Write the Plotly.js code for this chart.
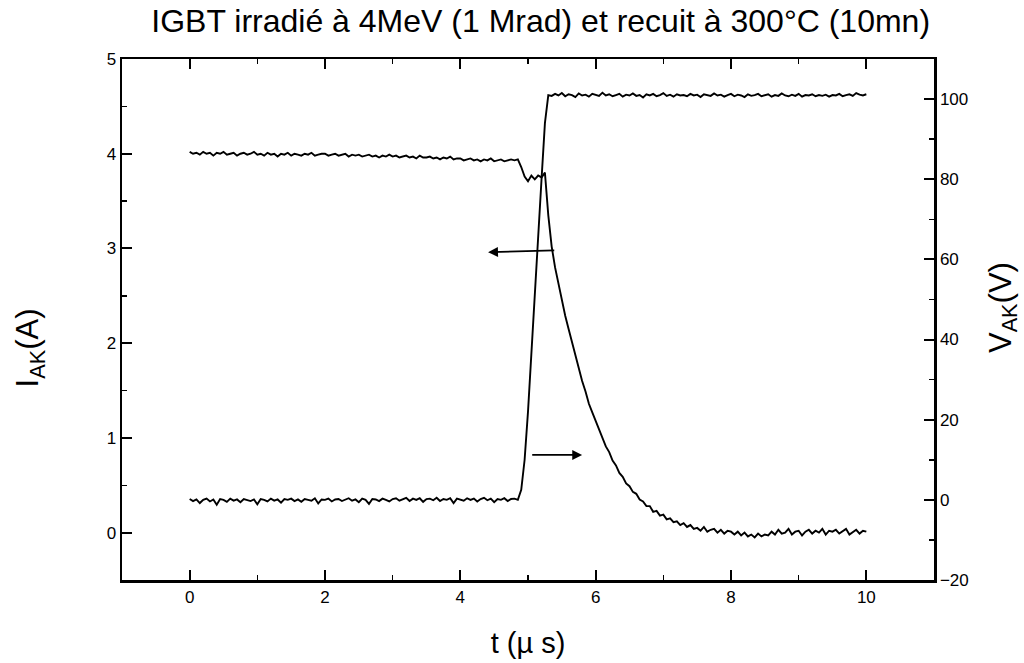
<!DOCTYPE html>
<html><head><meta charset="utf-8">
<script src="https://cdn.plot.ly/plotly-3.0.1.min.js"></script>
<style>body{margin:0;background:#fff}#chart{width:1024px;height:663px}</style>
</head><body><div id="chart"></div>
<script>
var time = [0,0.05,0.1,0.15,0.2,0.25,0.3,0.35,0.4,0.45,0.5,0.55,0.6,0.65,0.7,0.75,0.8,0.85,0.9,0.95,
1,1.05,1.1,1.15,1.2,1.25,1.3,1.35,1.4,1.45,1.5,1.55,1.6,1.65,1.7,1.75,1.8,1.85,1.9,1.95,
2,2.05,2.1,2.15,2.2,2.25,2.3,2.35,2.4,2.45,2.5,2.55,2.6,2.65,2.7,2.75,2.8,2.85,2.9,2.95,
3,3.05,3.1,3.15,3.2,3.25,3.3,3.35,3.4,3.45,3.5,3.55,3.6,3.65,3.7,3.75,3.8,3.85,3.9,3.95,
4,4.05,4.1,4.15,4.2,4.25,4.3,4.35,4.4,4.45,4.5,4.55,4.6,4.65,4.7,4.75,4.8,4.85,4.9,4.95,
5,5.05,5.1,5.15,5.2,5.25,5.3,5.35,5.4,5.45,5.5,5.55,5.6,5.65,5.7,5.75,5.8,5.85,5.9,5.95,
6,6.05,6.1,6.15,6.2,6.25,6.3,6.35,6.4,6.45,6.5,6.55,6.6,6.65,6.7,6.75,6.8,6.85,6.9,6.95,
7,7.05,7.1,7.15,7.2,7.25,7.3,7.35,7.4,7.45,7.5,7.55,7.6,7.65,7.7,7.75,7.8,7.85,7.9,7.95,
8,8.05,8.1,8.15,8.2,8.25,8.3,8.35,8.4,8.45,8.5,8.55,8.6,8.65,8.7,8.75,8.8,8.85,8.9,8.95,
9,9.05,9.1,9.15,9.2,9.25,9.3,9.35,9.4,9.45,9.5,9.55,9.6,9.65,9.7,9.75,9.8,9.85,9.9,9.95,10];

var currentIAK = [4.02,4.00,4.01,3.99,4.02,4.00,4.01,3.98,4.01,4.00,4.02,3.99,4.00,4.01,3.98,4.00,4.01,3.99,4.00,4.02,
3.99,4.00,3.98,4.01,3.99,4.00,3.97,4.00,3.99,4.01,3.98,4.00,3.99,3.98,4.00,3.99,4.01,3.98,3.99,4.00,
4.00,3.98,3.99,4.00,3.98,3.99,4.00,3.97,3.99,3.98,3.99,3.97,3.98,3.99,3.97,3.98,3.96,3.98,3.97,3.99,
3.97,3.98,3.96,3.97,3.98,3.96,3.97,3.95,3.98,3.96,3.96,3.97,3.95,3.96,3.94,3.96,3.95,3.97,3.94,3.95,
3.95,3.93,3.94,3.95,3.93,3.94,3.92,3.94,3.93,3.95,3.92,3.93,3.94,3.92,3.93,3.94,3.93,3.94,3.86,3.76,
3.71,3.77,3.73,3.77,3.75,3.80,3.35,3.02,2.80,2.62,2.45,2.29,2.15,2.01,1.85,1.73,1.60,1.49,1.36,1.27,
1.18,1.07,1.00,0.91,0.85,0.76,0.71,0.63,0.59,0.52,0.49,0.43,0.41,0.35,0.33,0.28,0.28,0.22,0.23,0.18,
0.19,0.14,0.15,0.11,0.12,0.08,0.10,0.06,0.08,0.04,0.05,0.02,0.06,0.01,0.03,0.04,0.00,0.03,-0.01,0.02,
0.01,-0.02,0.01,-0.03,0.00,-0.04,-0.02,-0.05,-0.01,-0.04,-0.02,-0.03,0.01,-0.02,0.03,-0.01,0.00,0.04,-0.02,0.01,
0.02,-0.03,0.01,0.03,-0.01,0.02,0.00,0.04,-0.02,0.02,0.01,0.03,-0.01,0.02,0.04,-0.02,0.01,0.03,-0.01,0.02,0.01];

var voltageVAK = [0.2,-0.3,0.1,-0.8,0.0,0.3,-0.4,0.1,-1.2,0.2,0.0,-0.5,0.3,-0.2,0.1,-0.6,0.2,0.0,-0.3,0.1,
-1.1,0.2,0.0,-0.4,0.3,-0.2,0.1,-0.7,0.2,0.0,0.3,-0.3,0.1,-0.5,0.2,0.0,-0.2,0.4,-0.9,0.1,
0.0,0.3,-0.4,0.1,0.2,-0.3,0.0,0.4,-0.2,0.1,-0.6,0.3,0.0,-1.0,0.2,0.1,-0.3,0.3,0.0,-0.4,
0.2,0.4,-0.2,0.1,0.5,-0.3,0.3,0.0,0.4,-0.5,0.2,0.3,-0.1,0.5,-0.3,0.2,0.0,0.4,-0.8,0.3,
0.1,-0.2,0.4,0.0,0.3,-0.4,0.2,0.5,-0.1,0.3,-0.6,0.2,0.0,0.4,-0.3,0.2,0.3,0.0,2.5,10,
22,37,53,67,80,94,101.0,100.8,101.3,100.9,101.5,100.7,101.2,101.0,100.5,101.4,100.9,101.1,100.6,101.3,
101.0,100.8,101.6,100.9,101.2,100.7,101.0,101.3,100.6,101.1,100.9,101.4,100.8,101.0,100.4,101.2,100.9,101.3,100.7,101.0,
101.5,100.8,101.1,100.6,101.2,100.9,101.0,100.7,101.3,100.9,101.1,100.5,101.2,101.0,100.8,101.4,100.9,101.1,100.6,101.0,
101.3,100.7,101.1,100.9,100.5,101.2,100.8,101.0,101.3,100.7,100.9,101.2,100.6,101.0,100.8,101.4,100.9,100.7,101.1,100.8,
101.3,100.6,101.0,100.9,101.2,100.7,101.0,100.8,101.1,100.6,101.0,100.9,101.3,100.7,101.0,101.2,100.8,101.5,101.1,100.9,101.2];

var titleText = 'IGBT irradié à 4MeV (1 Mrad) et recuit à 300°C (10mn)';
var xTitle = 't (µ s)';
var yTitle = 'I<sub>AK</sub>(A)';
var y2Title = 'V<sub>AK</sub>(V)';

var FONT = 'Liberation Sans, Arial, sans-serif';

var traces = [
  {x: time, y: currentIAK, type: 'scatter', mode: 'lines', line: {color: '#000', width: 1.9}, yaxis: 'y', hoverinfo: 'skip'},
  {x: time, y: voltageVAK, type: 'scatter', mode: 'lines', line: {color: '#000', width: 1.9}, yaxis: 'y2', hoverinfo: 'skip'}
];

var axisCommon = {
  showgrid: false, zeroline: false, showline: true, linecolor: '#000', linewidth: 2.5,
  ticks: 'inside', ticklen: 10, tickwidth: 2, tickcolor: '#000',
  tickfont: {family: FONT, size: 17, color: '#000'}
};

var layout = {
  width: 1024, height: 663,
  paper_bgcolor: '#fff', plot_bgcolor: '#fff',
  margin: {l: 122, r: 90, t: 59, b: 83},
  showlegend: false,
  title: {text: titleText, x: 0.528, xanchor: 'center', y: 0.968, yanchor: 'middle', font: {family: FONT, size: 32, color: '#000'}},
  xaxis: Object.assign({}, axisCommon, {
    range: [-1, 11], tick0: 0, dtick: 2, mirror: 'ticks',
    minor: {dtick: 1, ticks: 'inside', ticklen: 5, tickwidth: 1.5, tickcolor: '#000'},
    title: {text: xTitle, font: {family: FONT, size: 29, color: '#000'}, standoff: 27}
  }),
  yaxis: Object.assign({}, axisCommon, {
    range: [-0.5, 5], tick0: 0, dtick: 1,
    minor: {dtick: 0.5, ticks: 'inside', ticklen: 5, tickwidth: 1.5, tickcolor: '#000'}
  }),
  yaxis2: Object.assign({}, axisCommon, {
    overlaying: 'y', side: 'right', range: [-20, 110], tick0: 0, dtick: 20,
    minor: {dtick: 10, ticks: 'inside', ticklen: 5, tickwidth: 1.5, tickcolor: '#000'}
  }),
  annotations: [
    {x: 4.41, y: 2.96, ax: 5.41, ay: 2.98, xref: 'x', yref: 'y', axref: 'x', ayref: 'y', text: '', showarrow: true, arrowhead: 2, arrowsize: 1.1, arrowwidth: 1.8, arrowcolor: '#000'},
    {x: 5.80, y: 0.82, ax: 5.04, ay: 0.82, xref: 'x', yref: 'y', axref: 'x', ayref: 'y', text: '', showarrow: true, arrowhead: 2, arrowsize: 1.1, arrowwidth: 1.8, arrowcolor: '#000'},
    {x: -0.113, y: 0.445, xref: 'paper', yref: 'paper', xanchor: 'center', yanchor: 'middle', textangle: -90, showarrow: false, text: yTitle, font: {family: FONT, size: 31, color: '#000'}},
    {x: 1.085, y: 0.522, xref: 'paper', yref: 'paper', xanchor: 'center', yanchor: 'middle', textangle: -90, showarrow: false, text: y2Title, font: {family: FONT, size: 31, color: '#000'}}
  ]
};

Plotly.newPlot('chart', traces, layout, {staticPlot: true, displayModeBar: false});
</script></body></html>
